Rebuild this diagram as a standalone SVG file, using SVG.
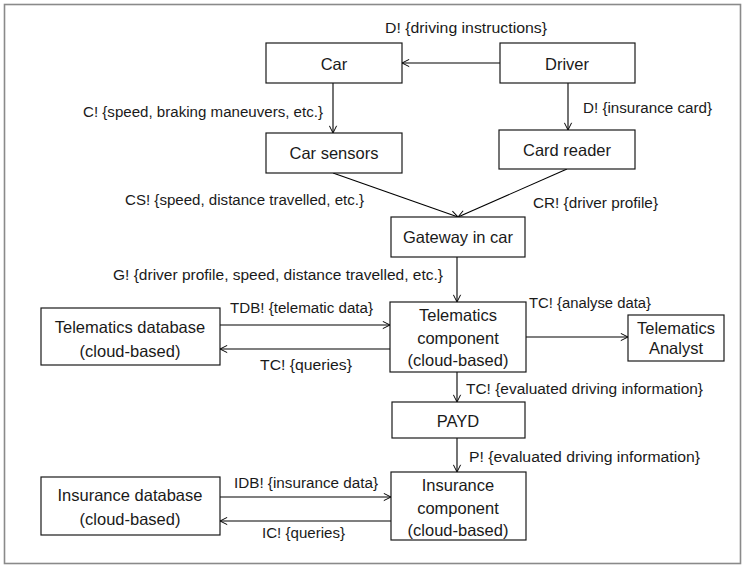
<svg xmlns="http://www.w3.org/2000/svg" width="743" height="566" viewBox="0 0 743 566">
  <defs>
    <marker id="arrow" viewBox="0 0 10 10" refX="9" refY="5" markerWidth="9" markerHeight="9" markerUnits="userSpaceOnUse" orient="auto">
      <path d="M1,1 L9,5 L1,9" fill="none" stroke="#000" stroke-width="1.1"/>
    </marker>
  </defs>
  <style>
    .frame { fill: #fff; stroke: #8a8a8a; stroke-width: 1.6; }
    .box { fill: #fff; stroke: #1a1a1a; stroke-width: 1.2; }
    .node-text { font-family: "Liberation Sans", Arial, sans-serif; font-size: 16.5px; fill: #1a1a1a; text-anchor: middle; }
    .label { font-family: "Liberation Sans", Arial, sans-serif; font-size: 15.5px; fill: #1a1a1a; }
    .edge { stroke: #000; stroke-width: 1.1; fill: none; marker-end: url(#arrow); }
  </style>

  <rect class="frame" x="4.5" y="4.5" width="736" height="559"/>

  <!-- connectors -->
  <g id="connectors">
    <line class="edge" x1="500" y1="63" x2="402" y2="63"/>
    <line class="edge" x1="333" y1="83" x2="333" y2="133"/>
    <line class="edge" x1="568" y1="83" x2="568" y2="130"/>
    <line class="edge" x1="333" y1="173" x2="458" y2="217"/>
    <line class="edge" x1="567" y1="169" x2="458" y2="217"/>
    <line class="edge" x1="457" y1="257" x2="457" y2="302"/>
    <line class="edge" x1="220" y1="325" x2="390" y2="325"/>
    <line class="edge" x1="390" y1="349" x2="220" y2="349"/>
    <line class="edge" x1="526" y1="337" x2="628" y2="337"/>
    <line class="edge" x1="457" y1="372" x2="457" y2="402"/>
    <line class="edge" x1="457" y1="438" x2="457" y2="472"/>
    <line class="edge" x1="220" y1="497" x2="391" y2="497"/>
    <line class="edge" x1="391" y1="521" x2="220" y2="521"/>

    <text class="label" x="385" y="33" textLength="162" lengthAdjust="spacingAndGlyphs">D! {driving instructions}</text>
    <text class="label" x="83" y="117" textLength="240" lengthAdjust="spacingAndGlyphs">C! {speed, braking maneuvers, etc.}</text>
    <text class="label" x="583" y="113" textLength="129" lengthAdjust="spacingAndGlyphs">D! {insurance card}</text>
    <text class="label" x="125" y="205" textLength="239" lengthAdjust="spacingAndGlyphs">CS! {speed, distance travelled, etc.}</text>
    <text class="label" x="533" y="208" textLength="125" lengthAdjust="spacingAndGlyphs">CR! {driver profile}</text>
    <text class="label" x="113" y="280" textLength="330" lengthAdjust="spacingAndGlyphs">G! {driver profile, speed, distance travelled, etc.}</text>
    <text class="label" x="230" y="313" textLength="143" lengthAdjust="spacingAndGlyphs">TDB! {telematic data}</text>
    <text class="label" x="260" y="370" textLength="92" lengthAdjust="spacingAndGlyphs">TC! {queries}</text>
    <text class="label" x="529" y="308" textLength="122" lengthAdjust="spacingAndGlyphs">TC! {analyse data}</text>
    <text class="label" x="466" y="394" textLength="237" lengthAdjust="spacingAndGlyphs">TC! {evaluated driving information}</text>
    <text class="label" x="469" y="462" textLength="231" lengthAdjust="spacingAndGlyphs">P! {evaluated driving information}</text>
    <text class="label" x="234" y="488" textLength="144" lengthAdjust="spacingAndGlyphs">IDB! {insurance data}</text>
    <text class="label" x="262" y="538" textLength="83" lengthAdjust="spacingAndGlyphs">IC! {queries}</text>
  </g>

  <!-- nodes -->
  <g id="car">
    <rect class="box" x="266" y="43" width="136" height="40"/>
    <text class="node-text" x="334" y="70">Car</text>
  </g>
  <g id="driver">
    <rect class="box" x="500" y="43" width="135" height="40"/>
    <text class="node-text" x="567" y="70">Driver</text>
  </g>
  <g id="car-sensors">
    <rect class="box" x="266" y="133" width="136" height="40"/>
    <text class="node-text" x="334" y="159">Car sensors</text>
  </g>
  <g id="card-reader">
    <rect class="box" x="499" y="130" width="136" height="39"/>
    <text class="node-text" x="567" y="156">Card reader</text>
  </g>
  <g id="gateway">
    <rect class="box" x="391" y="217" width="134" height="40"/>
    <text class="node-text" x="458" y="243">Gateway in car</text>
  </g>
  <g id="telematics-component">
    <rect class="box" x="390" y="302" width="136" height="70"/>
    <text class="node-text" x="458" y="321">Telematics</text>
    <text class="node-text" x="458" y="344">component</text>
    <text class="node-text" x="458" y="366">(cloud-based)</text>
  </g>
  <g id="telematics-database">
    <rect class="box" x="41" y="308" width="179" height="57"/>
    <text class="node-text" x="130" y="333">Telematics database</text>
    <text class="node-text" x="130" y="357">(cloud-based)</text>
  </g>
  <g id="telematics-analyst">
    <rect class="box" x="628" y="315" width="96" height="46"/>
    <text class="node-text" x="676" y="334">Telematics</text>
    <text class="node-text" x="676" y="354">Analyst</text>
  </g>
  <g id="payd">
    <rect class="box" x="392" y="402" width="133" height="36"/>
    <text class="node-text" x="458" y="427">PAYD</text>
  </g>
  <g id="insurance-component">
    <rect class="box" x="391" y="472" width="135" height="68"/>
    <text class="node-text" x="458" y="491">Insurance</text>
    <text class="node-text" x="458" y="514">component</text>
    <text class="node-text" x="458" y="536">(cloud-based)</text>
  </g>
  <g id="insurance-database">
    <rect class="box" x="41" y="477" width="179" height="58"/>
    <text class="node-text" x="130" y="501">Insurance database</text>
    <text class="node-text" x="130" y="525">(cloud-based)</text>
  </g>
</svg>
